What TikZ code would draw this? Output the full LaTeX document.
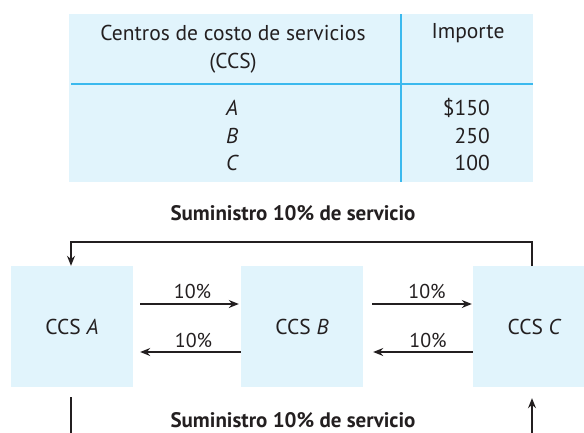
\documentclass[tikz,border=0pt]{standalone}
\usepackage{fontspec}
\setmainfont{PT Sans}
\usetikzlibrary{arrows.meta,calc}
\definecolor{tblfill}{HTML}{E1F4FC}
\definecolor{tblline}{HTML}{3BB9EE}
\definecolor{ink}{HTML}{231F20}
\tikzset{
  ccsbox/.style={fill=tblfill, draw=none, minimum width=122pt, minimum height=121pt, inner sep=0pt, font=\fontsize{21.5}{24}\selectfont, text=ink},
  txt/.style={font=\fontsize{21.5}{24}\selectfont, text=ink, inner sep=0pt},
  pct/.style={font=\fontsize{20}{22}\selectfont, text=ink, inner sep=0pt},
  ttl/.style={font=\bfseries\fontsize{21}{24}\selectfont, text=ink, inner sep=0pt},
  flow/.style={draw=ink, line width=1.2pt, -{Stealth[length=10pt,width=8pt]}},
  plain/.style={draw=ink, line width=1.2pt},
}
\begin{document}
\begin{tikzpicture}[x=1pt,y=-1pt]
\useasboundingbox (0,0) rectangle (584,432);
\clip (0,0) rectangle (584,432);
% table
\fill[tblfill] (69,14) rectangle (533,182);
\draw[tblline, line width=1.6pt] (71,84) -- (533,84);
\draw[tblline, line width=1.6pt] (401,14) -- (401,182);
\node[txt] (h1) at (233,33) {Centros de costo de servicios};
\node[txt] (h2) at (233,63) {(CCS)};
\node[txt] (h3) at (468,33) {Importe};
\node[txt] (ra) at (232,108) {\itshape A};
\node[txt] (rb) at (232,136) {\itshape B};
\node[txt] (rc) at (232,163) {\itshape C};
\node[txt, anchor=east] (va) at (490,108) {\$150};
\node[txt, anchor=east] (vb) at (490,136) {250};
\node[txt, anchor=east] (vc) at (490,163) {100};
% titles
\node[ttl] (t1) at (293,213) {Suministro 10\% de servicio};
\node[ttl] (t2) at (293,420) {Suministro 10\% de servicio};
% boxes
\node[ccsbox] (A) at (72,326.5) {CCS \itshape A};
\node[ccsbox] (B) at (302,326.5) {CCS \itshape B};
\node[ccsbox] (C) at (534,326.5) {CCS \itshape C};
% arrows
\coordinate (a1) at ($(A.east)+(7,-22.5)$);
\coordinate (b1) at ($(B.west)+(-2,-22.5)$);
\draw[flow] (a1) -- (b1);
\node[pct] (p1) at ($(a1)!0.5!(b1)+(3,-13)$) {10\%};
\coordinate (b2) at ($(B.west)+(0,25.5)$);
\coordinate (a2) at ($(A.east)+(7,25.5)$);
\draw[flow] (b2) -- (a2);
\node[pct] (p2) at ($(a2)!0.5!(b2)+(3,-12)$) {10\%};
\coordinate (b3) at ($(B.east)+(9,-22.5)$);
\coordinate (c3) at ($(C.west)+(-1,-22.5)$);
\draw[flow] (b3) -- (c3);
\node[pct] (p3) at ($(b3)!0.5!(c3)+(5,-13)$) {10\%};
\coordinate (c4) at ($(C.west)+(0,25.5)$);
\coordinate (b4) at ($(B.east)+(10,25.5)$);
\draw[flow] (c4) -- (b4);
\node[pct] (p4) at ($(b4)!0.5!(c4)+(5,-12)$) {10\%};
% top loop C -> A
\coordinate (ct) at (532,266);
\draw[flow] (ct) -- (532,242) -| (A.north -| 71,0);
% bottom lines
\coordinate (ab) at ($(A.south -| 71,0)+(0,10)$);
\coordinate (ae) at (71,440);
\draw[plain] (ab) -- (ae);
\coordinate (cb) at (532,440);
\coordinate (ce) at ($(C.south -| 532,0)+(0,11)$);
\draw[flow] (cb) -- (ce);
\end{tikzpicture}
\end{document}
